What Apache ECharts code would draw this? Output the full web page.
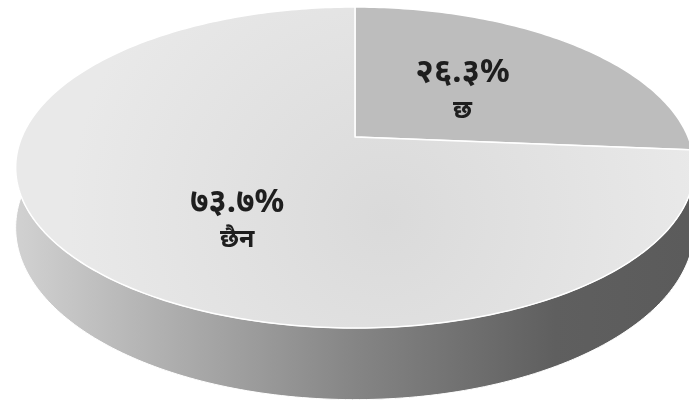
<!DOCTYPE html>
<html>
<head>
<meta charset="utf-8">
<script src="https://cdn.jsdelivr.net/npm/echarts@6/dist/echarts.min.js"></script>
<style>
  html, body { margin: 0; padding: 0; background: #ffffff; }
  #chart { width: 689px; height: 408px; }
</style>
</head>
<body>
<div id="chart"></div>
<script>
// Answers and their shares (%)
const categories = ['छ', 'छैन'];
const values = [26.3, 73.7];

// Top-face colour of each slice
const topColors = ['#bdbdbd', '#e2e2e2'];

// Devanagari digits used in the percentage labels
const devDigits = ['०', '१', '२', '३', '४', '५', '६', '७', '८', '९'];
function toDev(str) {
  return String(str).replace(/[0-9]/g, function (d) { return devDigits[+d]; });
}

// Tilted-disc geometry, as fractions of the chart size; k sets the perspective
const geo = { cx: 0.5152, cy: 0.3358, rx: 0.4835, ry: 0.3792, depth: 0.1422, k: -0.19 };
// Where each label sits: radius fraction and angle shift (degrees) from the slice middle
const labelLayout = [{ r: 0.465, da: 0 }, { r: 0.584, da: -14 }];

const total = values.reduce(function (a, b) { return a + b; }, 0);

function renderItem(params, api) {
  const i = params.dataIndex;
  const W = api.getWidth(), H = api.getHeight();
  const CX = geo.cx * W, CY = geo.cy * H, A = geo.rx * W, B = geo.ry * H, D = geo.depth * H, K = geo.k;

  // project a point of the disc (radius fraction, clockwise angle from 12 o'clock)
  function proj(r, deg, drop) {
    const t = deg * Math.PI / 180;
    const u = r * Math.sin(t), v = -r * Math.cos(t);
    const den = 1 + K * v;
    return [CX + A * u / den, CY + (B * v + drop) / den];
  }
  function arc(a0, a1, drop) {
    const n = Math.max(2, Math.ceil(Math.abs(a1 - a0)));
    const pts = [];
    for (let k = 0; k <= n; k++) pts.push(proj(1, a0 + (a1 - a0) * k / n, drop));
    return pts;
  }

  let start = 0;
  for (let j = 0; j < i; j++) start += values[j] / total * 360;
  const val = api.value(0);
  const end = start + val / total * 360;
  const children = [];

  // front wall of the disc
  const s = Math.max(start, 90), e = Math.min(end, 270);
  if (e > s) {
    const wall = arc(s, e, 0).concat(arc(e, s, D));
    children.push({
      type: 'polygon',
      z2: 1,
      shape: { points: wall },
      style: {
        fill: new echarts.graphic.LinearGradient(CX - A, 0, CX + A, 0, [
          { offset: 0, color: '#d0d0d0' },
          { offset: 0.25, color: '#aaaaaa' },
          { offset: 0.5, color: '#858585' },
          { offset: 0.8, color: '#5f5f5f' },
          { offset: 1, color: '#5b5b5b' }
        ], true),
        stroke: '#ffffff',
        lineWidth: 1
      }
    });
  }

  // top face
  const topPts = [[CX, CY]].concat(arc(start, end, 0));
  const topFill = i === 1
    ? new echarts.graphic.RadialGradient(CX + 30, CY + 80, A * 0.95, [
        { offset: 0, color: '#dadada' },
        { offset: 1, color: '#e9e9e9' }
      ], true)
    : topColors[i];
  children.push({
    type: 'polygon',
    z2: 2,
    shape: { points: topPts },
    style: { fill: topFill, stroke: '#ffffff', lineWidth: 1.5, lineJoin: 'round' }
  });

  // label: percentage and answer
  const lay = labelLayout[i];
  const mid = (start + end) / 2 + lay.da;
  const p = proj(lay.r, mid, 0);
  const font = '"Noto Sans", "DejaVu Sans", sans-serif';
  children.push({
    type: 'text',
    z2: 10,
    style: {
      x: p[0], y: p[1] - 18,
      text: toDev(val.toFixed(1)) + '%',
      fill: '#1e1e1e',
      font: 'bold 33px ' + font,
      align: 'center', verticalAlign: 'middle'
    }
  });
  children.push({
    type: 'text',
    z2: 10,
    style: {
      x: p[0], y: p[1] + 20,
      text: categories[i],
      fill: '#1e1e1e',
      font: 'bold 25px ' + font,
      align: 'center', verticalAlign: 'middle'
    }
  });

  return { type: 'group', children: children };
}

const chart = echarts.init(document.getElementById('chart'), null, { renderer: 'canvas' });
chart.setOption({
  animation: false,
  backgroundColor: '#ffffff',
  series: [{
    type: 'custom',
    coordinateSystem: 'none',
    renderItem: renderItem,
    data: values.map(function (v, i) { return { name: categories[i], value: [v] }; })
  }]
});
</script>
</body>
</html>
